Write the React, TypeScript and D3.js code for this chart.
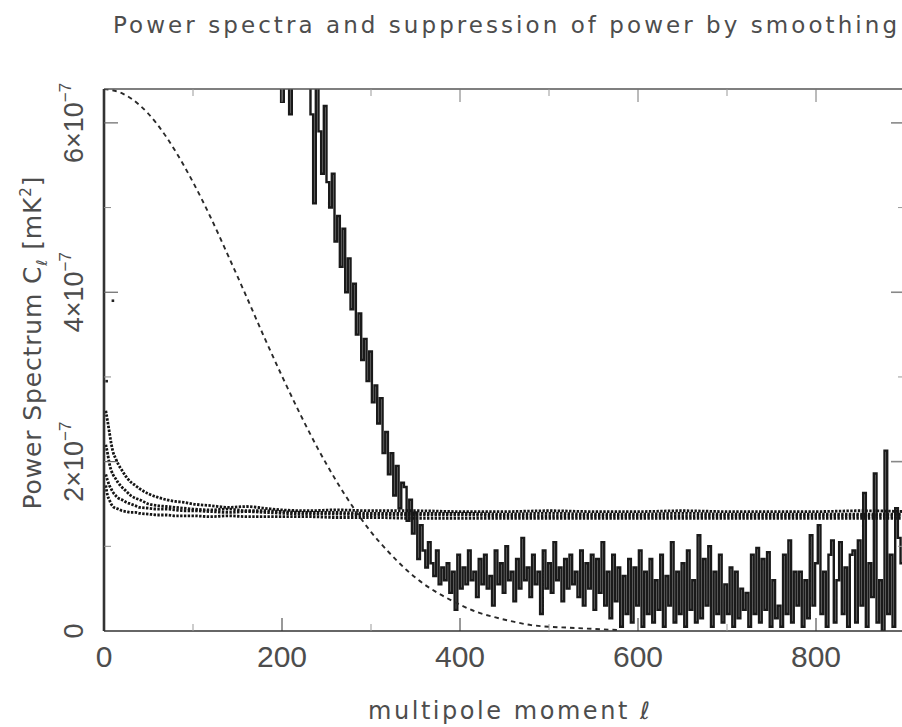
import React from 'react';
import * as d3 from 'd3';

// ---------- data (C_l values in units of 1e-7 mK^2) ----------
const titleText = 'Power spectra and suppression of power by smoothing';
const xLabelText = 'multipole moment ℓ';

const xTicksMajor = [200, 400, 600, 800];
const xTickLabels = [0, 200, 400, 600, 800];
const xTicksMinor = [100, 300, 500, 700];
const yTicksMajor = [2, 4, 6];
const yTicksMinor = [1, 3, 5];
const yTickLabels = [0, 2, 4, 6];

// dashed curve: smoothing beam shape
const beamL = [0, 20, 40, 60, 80, 100, 120, 140, 160, 180, 200, 220, 240, 260, 280, 300, 320, 340, 360, 380, 400, 420, 440, 460, 480, 500, 520, 540, 560, 580];
const beamC = [6.4, 6.35, 6.21, 5.98, 5.67, 5.3, 4.88, 4.42, 3.95, 3.47, 3.01, 2.57, 2.16, 1.79, 1.46, 1.17, 0.93, 0.72, 0.55, 0.42, 0.31, 0.22, 0.16, 0.11, 0.07, 0.05, 0.04, 0.03, 0.02, 0.01];

// smoothed spectra (dotted)
const smoothL = [2, 4, 6, 8, 10, 13, 16, 20, 25, 30, 35, 40, 50, 60, 70, 80, 90, 100, 120, 140, 160, 180, 200, 230, 260, 300, 350, 400, 450, 500, 550, 600, 650, 700, 750, 800, 850, 900];
const smoothA = [2.6, 2.48, 2.35, 2.22, 2.12, 2.04, 1.97, 1.9, 1.82, 1.76, 1.72, 1.68, 1.62, 1.58, 1.55, 1.53, 1.52, 1.5, 1.48, 1.46, 1.47, 1.45, 1.43, 1.42, 1.43, 1.42, 1.42, 1.41, 1.41, 1.42, 1.41, 1.41, 1.42, 1.41, 1.41, 1.41, 1.42, 1.41];
const smoothB = [2.2, 2.1, 1.98, 1.9, 1.85, 1.8, 1.75, 1.7, 1.65, 1.6, 1.57, 1.55, 1.5, 1.48, 1.47, 1.46, 1.45, 1.44, 1.43, 1.44, 1.42, 1.42, 1.41, 1.4, 1.4, 1.39, 1.39, 1.39, 1.38, 1.39, 1.38, 1.38, 1.39, 1.38, 1.38, 1.38, 1.38, 1.38];
const smoothC = [1.85, 1.78, 1.72, 1.68, 1.64, 1.6, 1.57, 1.55, 1.52, 1.5, 1.48, 1.46, 1.45, 1.44, 1.44, 1.43, 1.42, 1.42, 1.41, 1.4, 1.41, 1.4, 1.39, 1.38, 1.38, 1.37, 1.37, 1.37, 1.36, 1.36, 1.36, 1.36, 1.36, 1.36, 1.36, 1.36, 1.36, 1.36];
const smoothD = [1.72, 1.6, 1.55, 1.5, 1.47, 1.45, 1.44, 1.42, 1.41, 1.4, 1.4, 1.39, 1.38, 1.37, 1.37, 1.36, 1.36, 1.36, 1.35, 1.36, 1.35, 1.35, 1.35, 1.35, 1.34, 1.34, 1.33, 1.33, 1.33, 1.33, 1.33, 1.33, 1.33, 1.33, 1.33, 1.33, 1.33, 1.33];

// isolated low-l points
const lowL = [3, 10];
const lowC = [2.95, 3.9];

// unsmoothed noisy spectrum, l = 196, 199, ..., 898
const noisyStart = 196;
const noisyStep = 3;
const noisyC = [
  7.5, 6.25, 7.5, 7.5, 6.1, 7.5, 7.5, 7.5, 7.5, 7.5,
  7.5, 6.8, 6.1, 5.05, 6.5, 5.9, 5.4, 6.2, 5.3, 5.0,
  5.4, 4.6, 4.9, 4.3, 4.75, 4.0, 4.4, 3.8, 4.1, 3.5,
  3.75, 3.2, 3.45, 2.95, 3.3, 2.7, 2.9, 2.45, 2.75, 2.1,
  2.35, 1.85, 2.1, 1.6, 1.95, 1.45, 1.75, 1.7, 1.3, 1.55,
  1.15, 1.4, 0.85, 1.25, 0.95, 0.75, 1.05, 0.8, 0.65, 0.95,
  0.55, 0.75, 0.6, 0.8, 0.45, 0.7, 0.25, 0.9, 0.5, 0.75,
  0.55, 0.95, 0.6, 0.7, 0.4, 0.85, 0.55, 0.9, 0.5, 0.65,
  0.3, 0.95, 0.55, 0.8, 0.45, 1.0, 0.6, 0.7, 0.35, 0.85,
  0.5, 1.1, 0.6, 0.75, 0.4, 0.9, 0.55, 0.7, 0.2, 0.95,
  0.5, 0.8, 0.45, 1.05, 0.6, 0.75, 0.35, 0.85, 0.5, 0.9,
  0.55, 0.7, 0.4, 0.95, 0.3, 0.8, 0.5, 0.9, 0.25, 0.85,
  0.45, 1.05, 0.3, 0.7, 0.15, 0.9, 0.35, 0.75, 0.05, 0.65,
  0.2, 0.85, 0.1, 0.75, 0.3, 0.95, 0.05, 0.7, 0.2, 0.85,
  0.1, 0.6, 0.25, 0.9, 0.05, 0.65, 0.3, 1.05, 0.1, 0.7,
  0.2, 0.8, 0.05, 0.95, 0.25, 0.6, 0.1, 1.13, 0.15, 0.85,
  0.3, 1.0, 0.05, 0.7, 0.2, 0.9, 0.1, 0.55, 0.2, 0.75,
  0.05, 0.7, 0.15, 0.5, 0.25, 0.45, 0.05, 0.9, 0.2, 0.98,
  0.1, 0.85, 0.25, 0.93, 0.05, 0.6, 0.15, 0.3, 0.05, 0.9,
  0.2, 1.07, 0.1, 0.7, 0.3, 0.7, 0.05, 0.6, 0.15, 1.13,
  0.3, 0.8, 1.25, 0.2, 0.7, 0.05, 0.9, 1.07, 0.1, 0.6,
  1.05, 0.2, 0.75, 0.05, 0.9, 0.95, 0.1, 1.07, 0.3, 1.63,
  0.05, 0.8, 0.4, 1.86, 0.1, 0.6, 0.0, 2.13, 0.2, 0.9,
  0.05, 1.45, 1.1, 0.8, 0.6,
];

// ---------- layout ----------
const W = 902;
const H = 727;
const P = { left: 104, right: 905, top: 89, bottom: 631 };
const FONT = "'Liberation Sans', Arial, sans-serif";
const WIDE = "'DejaVu Sans', 'Liberation Sans', sans-serif";
const TEXT = '#4d4d4d';

export default function App() {
  const x = d3.scaleLinear().domain([0, 900]).range([P.left, P.right]);
  const y = d3.scaleLinear().domain([0, 6.4]).range([P.bottom, P.top]);

  const smooth = d3.line<[number, number]>().x(d => x(d[0])).y(d => y(d[1])).curve(d3.curveMonotoneX);
  const steps = d3.line<[number, number]>().x(d => x(d[0])).y(d => y(d[1])).curve(d3.curveStepAfter);

  const beamPath = smooth(beamL.map((l, i) => [l, beamC[i]] as [number, number])) || '';
  const smoothSeries = [smoothA, smoothB, smoothC, smoothD].map(s =>
    smooth(smoothL.map((l, i) => [l, s[i]] as [number, number])) || ''
  );
  const noisyPath = steps(noisyC.map((c, i) => [noisyStart + i * noisyStep, c] as [number, number])) || '';

  return (
    <div style={{ position: 'absolute', left: 0, top: 0 }}>
      <svg width={W} height={H} style={{ display: 'block', background: '#fff' }} fontFamily={FONT}>
        <defs>
          <clipPath id="plotclip">
            <rect x={P.left} y={P.top} width={P.right - P.left} height={P.bottom - P.top} />
          </clipPath>
        </defs>

        {/* title */}
        <text x={113} y={33} fontSize={23} fontFamily={WIDE} fill={TEXT} textLength={784} lengthAdjust="spacing">
          {titleText}
        </text>

        {/* data */}
        <g clipPath="url(#plotclip)">
          <path d={noisyPath} fill="none" stroke="#1a1a1a" strokeWidth={2.4} strokeLinejoin="miter" />
          {smoothSeries.map((d, i) => (
            <path key={i} d={d} fill="none" stroke="#151515" strokeWidth={2.8} strokeDasharray="2.4 1.4" />
          ))}
          <path d={beamPath} fill="none" stroke="#2a2a2a" strokeWidth={1.9} strokeDasharray="4.5 4" />
          {lowL.map((l, i) => (
            <rect key={i} x={x(l) - 1.3} y={y(lowC[i]) - 1.3} width={2.6} height={2.6} fill="#222" />
          ))}
        </g>

        {/* frame */}
        <line x1={P.left} x2={P.right} y1={P.top} y2={P.top} stroke="#555" strokeWidth={1.4} />
        <line x1={P.left} x2={P.right} y1={P.bottom} y2={P.bottom} stroke="#333" strokeWidth={1.6} />
        <line x1={P.left} x2={P.left} y1={P.top} y2={P.bottom} stroke="#333" strokeWidth={2.6} />
        <line x1={P.right} x2={P.right} y1={P.top} y2={P.bottom} stroke="#333" strokeWidth={1.6} />

        {/* x ticks */}
        {xTicksMajor.map(t => (
          <g key={'xM' + t}>
            <line x1={x(t)} x2={x(t)} y1={P.bottom} y2={P.bottom - 13} stroke="#333" strokeWidth={1} />
            <line x1={x(t)} x2={x(t)} y1={P.top} y2={P.top + 13} stroke="#777" strokeWidth={1} />
          </g>
        ))}
        {xTicksMinor.map(t => (
          <g key={'xm' + t}>
            <line x1={x(t)} x2={x(t)} y1={P.bottom} y2={P.bottom - 7} stroke="#999" strokeWidth={1} />
            <line x1={x(t)} x2={x(t)} y1={P.top} y2={P.top + 7} stroke="#999" strokeWidth={1} />
          </g>
        ))}
        {xTickLabels.map(t => (
          <text key={'xl' + t} x={x(t)} y={667} fontSize={30} fill={TEXT} textAnchor="middle">{t}</text>
        ))}

        {/* y ticks */}
        {yTicksMajor.map(t => (
          <g key={'yM' + t}>
            <line x1={P.left} x2={P.left + 14} y1={y(t)} y2={y(t)} stroke="#666" strokeWidth={1.2} />
            <line x1={P.right} x2={P.right - 14} y1={y(t)} y2={y(t)} stroke="#888" strokeWidth={1.6} />
          </g>
        ))}
        {yTicksMinor.map(t => (
          <g key={'ym' + t}>
            <line x1={P.left} x2={P.left + 7} y1={y(t)} y2={y(t)} stroke="#888" strokeWidth={1} />
            <line x1={P.right} x2={P.right - 7} y1={y(t)} y2={y(t)} stroke="#999" strokeWidth={1} />
          </g>
        ))}
        {yTickLabels.map(t => (
          <text key={'yl' + t} transform={`translate(83,${y(t)}) rotate(-90)`} fontSize={27} fill={TEXT} textAnchor="middle">
            {t === 0 ? '0' : (
              <>
                {`${t}×10`}
                <tspan dy={-12} fontSize={17}>−7</tspan>
              </>
            )}
          </text>
        ))}

        {/* axis titles */}
        <text x={509} y={719} fontSize={24} fontFamily={WIDE} fill={TEXT} textAnchor="middle" textLength={282} lengthAdjust="spacing">
          {xLabelText}
        </text>
        <text transform="translate(41,343) rotate(-90)" fontSize={25} fontFamily={WIDE} fill={TEXT} textAnchor="middle" textLength={333} lengthAdjust="spacing">
          Power Spectrum C
          <tspan dy={6} fontSize={15}>ℓ</tspan>
          <tspan dy={-6}> [mK</tspan>
          <tspan dy={-10} fontSize={15}>2</tspan>
          <tspan dy={10}>]</tspan>
        </text>
      </svg>
    </div>
  );
}
